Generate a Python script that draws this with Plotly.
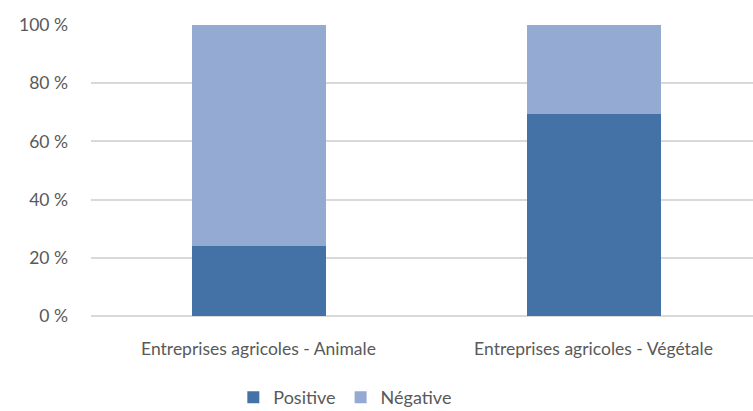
import plotly.graph_objects as go

# Share of responses per type of farm business (percent, stacked to 100)
categories = ["Entreprises agricoles - Animale", "Entreprises agricoles - Végétale"]
positive = [24.0, 69.4]
negative = [76.0, 30.6]
y_ticks = [0, 20, 40, 60, 80, 100]
y_tick_labels = [f"{v} %" for v in y_ticks]

FONT = "Lato, 'Noto Sans', sans-serif"
TEXT_COLOR = "#595959"
GRID = "#D9D9D9"

fig = go.Figure()
fig.add_trace(go.Bar(
    name="Positive", x=categories, y=positive, width=0.4,
    marker=dict(color="#4472A6", line=dict(width=0)),
))
fig.add_trace(go.Bar(
    name="Négative", x=categories, y=negative, width=0.4,
    marker=dict(color="#95AAD2", line=dict(width=0)),
))

fig.update_layout(
    barmode="stack",
    width=753, height=411,
    margin=dict(l=91, r=0, t=25, b=95, autoexpand=False),
    paper_bgcolor="white", plot_bgcolor="white",
    font=dict(family=FONT, size=17, color=TEXT_COLOR),
    showlegend=True,
    legend=dict(
        orientation="h", x=0.215, xanchor="left",
        yref="container", y=0.078, yanchor="top",
        font=dict(family=FONT, size=18, color=TEXT_COLOR),
        itemwidth=30, traceorder="normal",
    ),
    xaxis=dict(
        range=[-0.5, 1.476], showgrid=False, zeroline=False, showline=False,
        ticks="", tickfont=dict(family=FONT, size=17.5, color=TEXT_COLOR),
        ticklabelstandoff=20, automargin=False,
    ),
    yaxis=dict(
        range=[0, 100], tickvals=y_ticks, ticktext=y_tick_labels,
        showgrid=True, gridcolor=GRID, gridwidth=1.5,
        zeroline=True, zerolinecolor=GRID, zerolinewidth=1.5,
        showline=False, ticks="",
        tickfont=dict(family=FONT, size=17.5, color=TEXT_COLOR),
        ticklabelstandoff=22, automargin=False,
    ),
)

fig.write_html("out.html")
